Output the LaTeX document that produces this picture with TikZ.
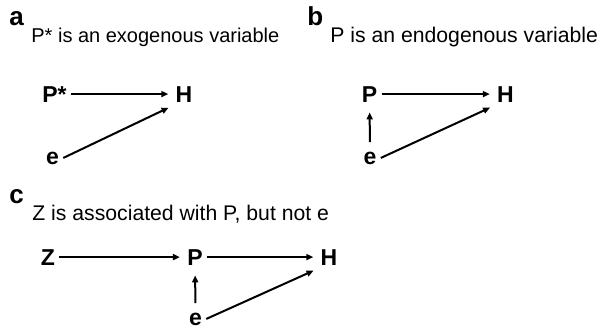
\documentclass[tikz,border=0pt]{standalone}
\usepackage{fontspec}
\setmainfont{Liberation Sans}
\usetikzlibrary{arrows.meta}

\begin{document}
\begin{tikzpicture}[x=0.5pt, y=-0.5pt, >={Triangle[length=3.5pt,width=3pt]},
        var/.style={font=\bfseries\fontsize{11.5}{13}\selectfont, inner sep=2pt, anchor=base},
        panel/.style={font=\bfseries\fontsize{13}{15}\selectfont, inner sep=0pt, anchor=base west},
        caption/.style={font=\fontsize{#1}{12}\selectfont, inner sep=0pt, anchor=base west},
        link/.style={->, line width=1pt, shorten >=1.5pt},
        uplink/.style={link, shorten <=2.5pt, shorten >=3pt}]
            \useasboundingbox (0, 0) rectangle (605, 328);

            % Panel a
            \node[panel] (lbla) at (9, 25) {a};
            \node[caption=10] (capa) at (31, 42) {P* is an exogenous variable};
            \node[var] (Pstar) at (54.5, 102) {P*};
            \node[var] (Ha) at (184, 102) {H};
            \node[var] (ea) at (52.5, 164) {e};
            \draw[link] (Pstar) -- (Ha);
            \draw[link] (ea.east) -- (Ha.south west);

            % Panel b
            \node[panel] (lblb) at (307, 25) {b};
            \node[caption=10.6] (capb) at (330, 42) {P is an endogenous variable};
            \node[var] (Pb) at (369.5, 102) {P};
            \node[var] (Hb) at (505.5, 102) {H};
            \node[var] (eb) at (370, 164) {e};
            \draw[link] (Pb) -- (Hb);
            \draw[uplink] (eb) -- (Pb);
            \draw[link] (eb.east) -- (Hb.south west);

            % Panel c
            \node[panel] (lblc) at (9, 203) {c};
            \node[caption=10.6] (capc) at (32, 220) {Z is associated with P, but not e};
            \node[var] (Zc) at (48, 265) {Z};
            \node[var] (Pc) at (195, 265) {P};
            \node[var] (Hc) at (329, 265) {H};
            \node[var] (ec) at (195.5, 325) {e};
            \draw[link] (Zc) -- (Pc);
            \draw[link] (Pc) -- (Hc);
            \draw[uplink] (ec) -- (Pc);
            \draw[link] (ec.east) -- (Hc.south west);
        \end{tikzpicture}
\end{document}
